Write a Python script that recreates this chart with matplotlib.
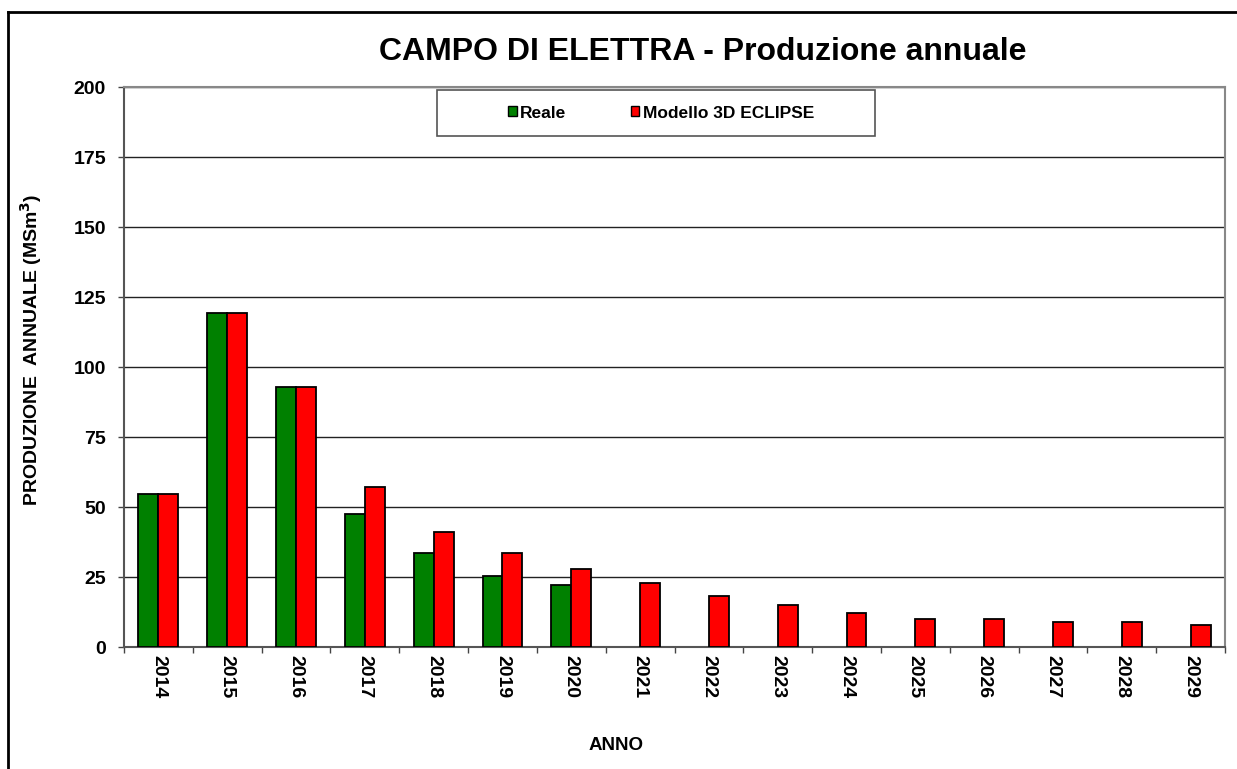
import matplotlib
matplotlib.use("Agg")
import matplotlib.pyplot as plt
import numpy as np
from matplotlib.patches import Patch, Rectangle
from matplotlib.lines import Line2D

years = ["2014", "2015", "2016", "2017", "2018", "2019", "2020", "2021",
         "2022", "2023", "2024", "2025", "2026", "2027", "2028", "2029"]
reale = [54.7, 119.3, 92.9, 47.6, 33.4, 25.2, 22.3, np.nan,
         np.nan, np.nan, np.nan, np.nan, np.nan, np.nan, np.nan, np.nan]
modello = [54.7, 119.3, 92.9, 57.0, 40.9, 33.7, 27.8, 23.0,
           18.2, 15.1, 12.1, 10.0, 10.0, 9.1, 9.1, 7.9]
series_names = ["Reale", "Modello 3D ECLIPSE"]
title = "CAMPO DI ELETTRA - Produzione annuale"
ylabel = "PRODUZIONE  ANNUALE (MSm$^3$)"
xlabel = "ANNO"
yticks = [0, 25, 50, 75, 100, 125, 150, 175, 200]

plt.rcParams['font.family'] = ['Liberation Sans', 'DejaVu Sans']
plt.rcParams['font.weight'] = 'bold'
plt.rcParams['mathtext.default'] = 'bf'

W, H = 1237, 769
fig = plt.figure(figsize=(W / 100, H / 100), dpi=100)
fig.patch.set_facecolor('white')

def fx(px):
    return px / W

def fy(py):
    return 1 - py / H

ax = fig.add_axes([fx(124), fy(647), fx(1225) - fx(124), fy(87) - fy(647)])

x = np.arange(len(years))
bw = 0.29
ax.bar(x - bw / 2, reale, width=bw, color='#008000', edgecolor='black', linewidth=1.3, zorder=3)
ax.bar(x + bw / 2, modello, width=bw, color='#ff0000', edgecolor='black', linewidth=1.3, zorder=3)

ax.set_xlim(-0.5, len(years) - 0.5)
ax.set_ylim(0, 200)
ax.set_yticks(yticks)
ax.set_yticklabels([str(v) for v in yticks], fontsize=14, fontweight='bold')
ax.yaxis.grid(True, color='#222222', linewidth=1.0, zorder=0)
ax.set_axisbelow(True)

ax.set_xticks(x)
ax.set_xticklabels(years, rotation=270, fontsize=14, fontweight='bold', va='top', ha='center')
ax.set_xticks(np.arange(-0.5, len(years), 1.0), minor=True)
ax.tick_params(axis='x', which='major', length=0, pad=6)
ax.tick_params(axis='x', which='minor', length=4.5, width=1, color='#444444', direction='out')
ax.tick_params(axis='y', length=4.5, width=1, color='#444444', direction='out', pad=8.5)

for s in ['left', 'bottom']:
    ax.spines[s].set_color('#555555')
    ax.spines[s].set_linewidth(1.5)
for s in ['top', 'right']:
    ax.spines[s].set_color('#888888')
    ax.spines[s].set_linewidth(1.5)

fig.text(fx(703), fy(52), title, fontsize=23, fontweight='bold', ha='center', va='center')
fig.text(fx(31), fy(350), ylabel, fontsize=14, fontweight='bold', rotation=90, ha='center', va='center')
fig.text(fx(616), fy(745), xlabel, fontsize=13.5, fontweight='bold', ha='center', va='center')

# legend box
fig.patches.append(Rectangle((fx(437), fy(136)), fx(875) - fx(437), fy(90) - fy(136),
                             transform=fig.transFigure, facecolor='white', edgecolor='#555555',
                             linewidth=1.2, zorder=5))
handles = [Patch(facecolor='#008000', edgecolor='black', linewidth=1.0),
           Patch(facecolor='#ff0000', edgecolor='black', linewidth=1.0)]
leg = fig.legend(handles, series_names, loc='center', bbox_to_anchor=(fx(661), fy(113)),
                 ncol=2, frameon=False, handlelength=0.5, handleheight=0.5,
                 handletextpad=0.2, columnspacing=3.7, prop={'weight': 'bold', 'size': 12.5})
leg.set_zorder(6)

# figure border (top and left visible)
fig.add_artist(Line2D([fx(8), 1.0], [fy(12), fy(12)], transform=fig.transFigure, color='black', linewidth=2))
fig.add_artist(Line2D([fx(8), fx(8)], [fy(12), 0.0], transform=fig.transFigure, color='black', linewidth=2))

fig.savefig("out.png", dpi=100, facecolor='white')
